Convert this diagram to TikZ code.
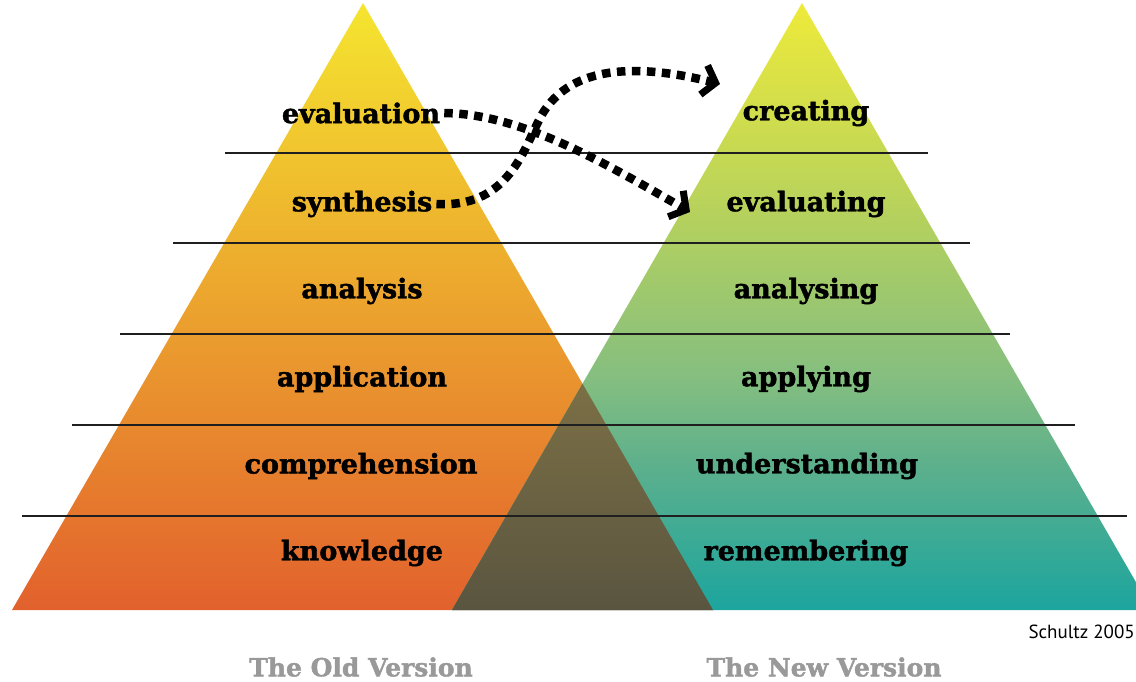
\documentclass[tikz,border=0pt]{standalone}
\usepackage{fontspec}
\setmainfont{DejaVu Serif}
\newfontfamily\labfont[BoldFeatures={FakeBold=1.6}]{DejaVu Serif}
\newfontfamily\creditfont{PT Sans}
\usetikzlibrary{arrows.meta}
\definecolor{Lt}{HTML}{F5E52F}
\definecolor{Lm}{HTML}{F0A93A}
\definecolor{Lb}{HTML}{E2612D}
\definecolor{Rt}{HTML}{EEEA3A}
\definecolor{R3}{HTML}{B7D25C}
\definecolor{R2}{HTML}{84BE80}
\definecolor{R1}{HTML}{5DB08C}
\definecolor{Rb}{HTML}{1CA59E}
\definecolor{Ot}{HTML}{7B6F45}
\definecolor{Ob}{HTML}{5A5540}
\definecolor{capgray}{HTML}{999999}
\pgfdeclareverticalshading{rshade}{100bp}{color(0bp)=(Rb); color(25bp)=(Rb); color(37bp)=(R1); color(44bp)=(R2); color(58bp)=(R3); color(75bp)=(Rt); color(100bp)=(Rt)}
\tikzset{
  hline/.style={line width=2pt, draw=black!88},
  lab/.style={font=\labfont\bfseries\fontsize{27}{27}\selectfont, text=black, inner sep=4pt},
  caplab/.style={font=\labfont\bfseries\fontsize{25}{25}\selectfont, text=capgray},
  dotarrow/.style={line width=8.5pt, dash pattern=on 8.5pt off 6.5pt,
    -{Straight Barb[length=12pt,width=30pt,line width=7pt]}}
}
\begin{document}
\begin{tikzpicture}[x=1pt,y=-1pt]
\useasboundingbox (0,0) rectangle (1136,682);
% triangles
\shade[top color=Lt, middle color=Lm, bottom color=Lb] (363,3) -- (713,610) -- (12,610) -- cycle;
\shade[shading=rshade] (802,3) -- (1152,610) -- (452,610) -- cycle;
\shade[top color=Ot, bottom color=Ob] (582.5,383.7) -- (713,610) -- (452,610) -- cycle;
% separating lines
\draw[hline] (225,153) -- (928,153);
\draw[hline] (173,243) -- (970,243);
\draw[hline] (120,334) -- (1010,334);
\draw[hline] (72,425) -- (1075,425);
\draw[hline] (22,516) -- (1127,516);
% old version labels
\node[lab] (evaluation) at (361,113) {evaluation};
\node[lab] (synthesis) at (362,204) {synthesis};
\node[lab] (analysis) at (362,291) {analysis};
\node[lab] (application) at (362,379) {application};
\node[lab] (comprehension) at (361,466) {comprehension};
\node[lab] (knowledge) at (362,553) {knowledge};
% new version labels
\node[lab] (creating) at (806,113) {creating};
\node[lab] (evaluating) at (806,204) {evaluating};
\node[lab] (analysing) at (806,291) {analysing};
\node[lab] (applying) at (806,379) {applying};
\node[lab] (understanding) at (807,466) {understanding};
\node[lab] (remembering) at (806,553) {remembering};
% captions
\node[caplab] (oldv) at (361,667) {The Old Version};
\node[caplab] (newv) at (824,667) {The New Version};
\node[font=\creditfont\fontsize{19}{19}\selectfont, anchor=east, inner sep=0pt] (credit) at (1135,632) {Schultz 2005};
% arrows
\coordinate (tipA) at (690,212);
\coordinate (tipB) at (720,84);
\draw[dotarrow] (evaluation.east) .. controls (520,114) and (600,160) .. (tipA);
\draw[dotarrow] (synthesis.east) .. controls (505,208) and (522,155) .. (538,122) .. controls (556,84) and (600,54) .. (tipB);
\end{tikzpicture}
\end{document}
